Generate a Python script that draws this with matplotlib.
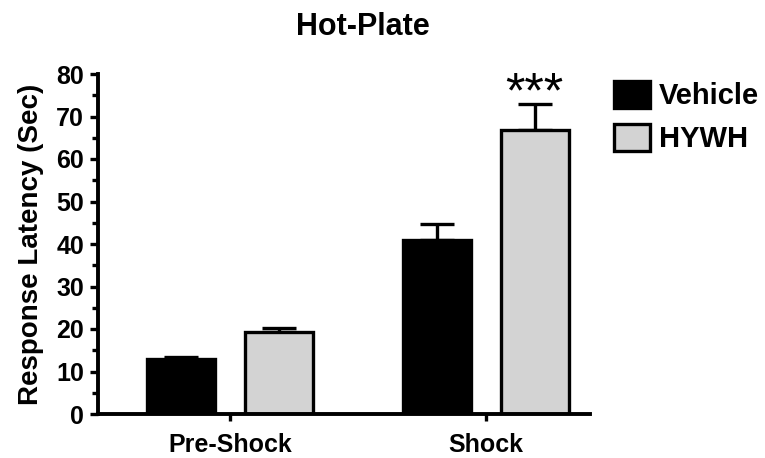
import numpy as np
import matplotlib.pyplot as plt
from matplotlib.patches import Patch

plt.rcParams['font.family'] = ['Liberation Sans', 'DejaVu Sans']
plt.rcParams['font.weight'] = 'bold'

# data
groups = ['Pre-Shock', 'Shock']
vehicle = [12.9, 40.9]
vehicle_err = [0.6, 3.7]
hywh = [19.4, 66.8]
hywh_err = [0.8, 6.1]
series_names = ['Vehicle', 'HYWH']
stars = [None, '***']

fig = plt.figure(figsize=(7.65, 4.58), dpi=100)
ax = fig.add_axes([98/765, 1 - 414/458, (590-98)/765, (414-74)/458])

x = np.arange(len(groups))
w = 0.266
off = 0.19
lw = 2.4

ax.bar(x - off, vehicle, w, color='black', edgecolor='black', linewidth=lw, zorder=2)
ax.bar(x + off, hywh, w, color='#d3d3d3', edgecolor='black', linewidth=lw, zorder=2)
ax.errorbar(x - off, vehicle, yerr=[np.zeros(2), vehicle_err], fmt='none',
            ecolor='black', elinewidth=lw, capsize=12.5, capthick=lw, zorder=1)
ax.errorbar(x + off, hywh, yerr=[np.zeros(2), hywh_err], fmt='none',
            ecolor='black', elinewidth=lw, capsize=12.5, capthick=lw, zorder=1)

for i, s in enumerate(stars):
    if s:
        ax.text(x[i] + off, 75.2, s, ha='center', va='center',
                fontsize=36, fontweight='normal', clip_on=False)

ax.set_xlim(-0.516, 1.406)
ax.set_ylim(0, 80)
ax.set_yticks(np.arange(0, 81, 10))
ax.set_yticks(np.arange(0, 81, 5), minor=True)
ax.set_xticks(x)
ax.set_xticklabels(groups, fontsize=18, fontweight='bold')
ax.tick_params(axis='y', labelsize=18, width=2.4, length=6, pad=4, direction='out')
ax.tick_params(axis='y', which='minor', width=2.4, length=4)
ax.tick_params(axis='x', width=2.4, length=5, pad=9)
for lab in ax.get_yticklabels():
    lab.set_fontweight('bold')

for side in ['top', 'right']:
    ax.spines[side].set_visible(False)
for side in ['left', 'bottom']:
    ax.spines[side].set_linewidth(2.8)

ax.set_ylabel('Response Latency (Sec)', fontsize=20, fontweight='bold', labelpad=9)
fig.text(363/765, 1 - 27/458, 'Hot-Plate', ha='center', va='center', fontsize=22, fontweight='bold')

handles = [Patch(facecolor='black', edgecolor='black', linewidth=lw),
           Patch(facecolor='#d3d3d3', edgecolor='black', linewidth=lw)]
fig.legend(handles, series_names, loc='upper left', bbox_to_anchor=(611/765, 1 - 78/458),
           frameon=False, handlelength=1.25, handleheight=1.05,
           handletextpad=0.3, labelspacing=0.45, borderpad=0.1, borderaxespad=0,
           prop={'weight': 'bold', 'size': 21})

fig.savefig('out.png', dpi=100)
